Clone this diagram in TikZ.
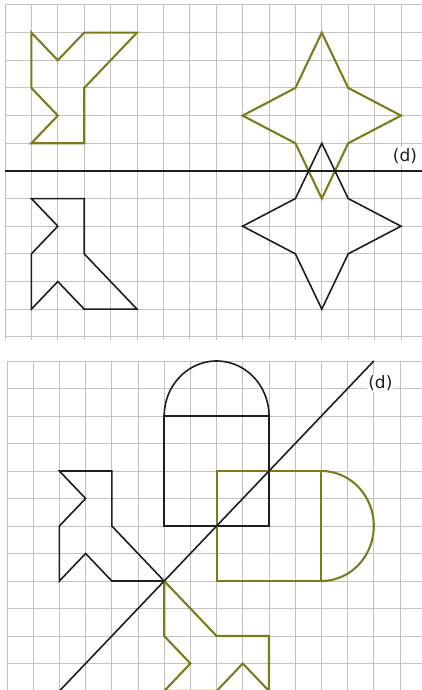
\documentclass[tikz,border=0pt]{standalone}
\usepackage{fontspec}
\newfontfamily\lblfont{DejaVu Sans}
\usetikzlibrary{calc}
\definecolor{gridGrey}{HTML}{C2C2C2}
\definecolor{figOlive}{HTML}{7E7B1E}
\definecolor{figBlack}{HTML}{1E1E1E}
\tikzset{
  gridline/.style = {gridGrey, line width=1pt},
  dline/.style    = {figBlack, line width=2pt},
  figorig/.style  = {figBlack, line width=1.6pt},
  figimg/.style   = {figOlive, line width=2.1pt},
  lbl/.style      = {font=\lblfont\fontsize{17}{19}\selectfont, text=figBlack,
                     fill=white, inner sep=1pt},
}

\begin{document}
\begin{tikzpicture}

\useasboundingbox (0,0) rectangle (422pt,-690pt);
\clip (0,0) rectangle (422pt,-690pt);

% ---- helper: one squared sheet --------------------------------------------
\newcommand{\gridsheet}{%
  \foreach \gx in {0,...,16} \draw[gridline] (\gx,0) -- (\gx,12.1);
  \foreach \gy in {0,...,12} \draw[gridline] (0,\gy) -- (16.2,\gy);
}

% (1) reflection in a horizontal axis
\begin{scope}[shift={(5pt,-5pt)}, x=26.4pt, y=-27.65pt]
  \gridsheet
  \draw[figimg] (1,1) -- (2,2) -- (3,1) -- (5,1) -- (3,3) -- (3,5) -- (1,5)
                -- (2,4) -- (1,3) -- cycle;
  \draw[figimg] (12,1) -- (13,3) -- (15,4) -- (13,5) -- (12,7) -- (11,5)
                -- (9,4) -- (11,3) -- cycle;
  \draw[figorig] (1,11) -- (2,10) -- (3,11) -- (5,11) -- (3,9) -- (3,7)
                 -- (1,7) -- (2,8) -- (1,9) -- cycle;
  \draw[figorig] (12,11) -- (13,9) -- (15,8) -- (13,7) -- (12,5) -- (11,7)
                 -- (9,8) -- (11,9) -- cycle;
  \coordinate (dL) at (0,6);
  \coordinate (dR) at (16.2,6);
  \draw[dline] (dL) -- (dR);
  \node[lbl] (dtop) at (15.15,5.45) {(d)};
\end{scope}

% (2) reflection in a diagonal axis
\begin{scope}[shift={(7pt,-361pt)}, x=26.2pt, y=-27.5pt]
  \gridsheet
  \draw[figorig] (6,2) rectangle (10,6);
  \draw[figorig] plot[domain=180:0, samples=60] ({8+2*cos(\x)}, {2-2*sin(\x)});
  \draw[figorig] (2,4) -- (4,4) -- (4,6) -- (6,8) -- (4,8) -- (3,7) -- (2,8)
                 -- (2,6) -- (3,5) -- cycle;
  \draw[figimg] (8,4) rectangle (12,8);
  \draw[figimg] plot[domain=0:180, samples=60] ({12+2*sin(\x)}, {6-2*cos(\x)});
  \draw[figimg] (6,8) -- (6,10) -- (7,11) -- (6,12) -- (8,12) -- (9,11)
                -- (10,12) -- (10,10) -- (8,10) -- cycle;
  \coordinate (dlo) at (1.5,12.5);
  \coordinate (dhi) at (14,0);
  \draw[figorig] (dlo) -- (dhi);
  \node[lbl] (dbot) at (14.25,0.8) {(d)};
\end{scope}

\end{tikzpicture}
\end{document}
